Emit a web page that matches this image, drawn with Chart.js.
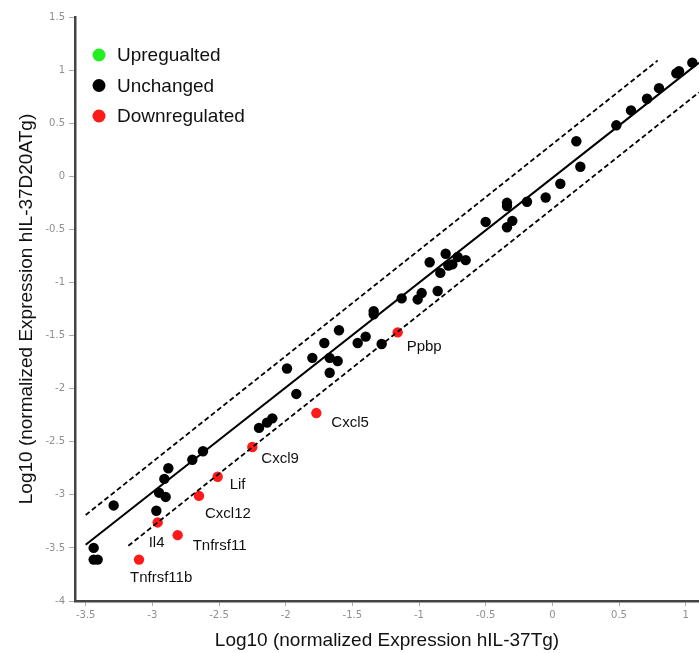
<!DOCTYPE html>
<html>
<head>
<meta charset="utf-8">
<script src="https://cdn.jsdelivr.net/npm/chart.js@4/dist/chart.umd.min.js"></script>
<style>
  html, body { margin: 0; padding: 0; background: #fff; }
  #wrap { width: 699px; height: 653px; }
</style>
</head>
<body>
<div id="wrap"><canvas id="scatterChart" width="699" height="653"></canvas></div>
<script>
// unchanged genes (black)
const unchangedX = [-3.44, -3.44, -3.41, -3.29, -2.97, -2.95, -2.90, -2.91, -2.88, -2.70,
  -2.62, -2.20, -2.14, -2.10, -1.92, -1.99, -1.80, -1.71, -1.67, -1.61,
  -1.67, -1.60, -1.46, -1.40, -1.34, -1.34, -1.28, -1.13, -1.01, -0.98,
  -0.86, -0.92, -0.84, -0.80, -0.78, -0.75, -0.71, -0.65, -0.50, -0.34,
  -0.34, -0.30, -0.34, -0.19, -0.05, 0.06, 0.21, 0.18, 0.48, 0.59,
  0.71, 0.80, 0.93, 0.95, 1.05];
const unchangedY = [-3.50, -3.61, -3.61, -3.10, -3.15, -2.98, -3.02, -2.85, -2.75, -2.67,
  -2.59, -2.37, -2.32, -2.28, -2.05, -1.81, -1.71, -1.57, -1.71, -1.74,
  -1.85, -1.45, -1.57, -1.51, -1.27, -1.30, -1.58, -1.15, -1.16, -1.10,
  -1.08, -0.81, -0.91, -0.73, -0.84, -0.83, -0.76, -0.79, -0.43, -0.25,
  -0.28, -0.42, -0.48, -0.24, -0.20, -0.07, 0.09, 0.33, 0.48, 0.62,
  0.73, 0.83, 0.97, 0.99, 1.07];

// downregulated genes (red)
const downGenes = ["Tnfrsf11b", "Il4", "Tnfrsf11", "Cxcl12", "Lif", "Cxcl9", "Cxcl5", "Ppbp"];
const downX = [-3.10, -2.96, -2.81, -2.65, -2.51, -2.25, -1.77, -1.16];
const downY = [-3.61, -3.26, -3.38, -3.01, -2.83, -2.55, -2.23, -1.47];

// upregulated genes (green) - none
const upX = [];
const upY = [];

// regression line and +/- boundaries
const fitX = [-3.50, 1.10];
const fitY = [-3.47, 1.07];
const upperX = [-3.50, 0.79];
const upperY = [-3.19, 1.09];
const lowerX = [-3.18, 1.10];
const lowerY = [-3.48, 0.79];

const xTicks = [-3.5, -3, -2.5, -2, -1.5, -1, -0.5, 0, 0.5, 1];
const yTicks = [-4, -3.5, -3, -2.5, -2, -1.5, -1, -0.5, 0, 0.5, 1, 1.5];

const legendItems = ["Upregualted", "Unchanged", "Downregulated"];
const legendColors = ["#22ee22", "#000000", "#ff1a1a"];

// label offsets (px) relative to each red point
const labelOffsets = [[-9, 18], [-9, 20], [15, 11], [6, 18], [12, 8], [9, 12], [15, 10], [9, 14]];

const pts = (xs, ys) => xs.map((x, i) => ({ x: x, y: ys[i] }));

const textFont = "'Liberation Sans', Arial, sans-serif";

const labelPlugin = {
  id: "geneLabels",
  afterDatasetsDraw(chart) {
    const ctx = chart.ctx;
    const xs = chart.scales.x, ys = chart.scales.y;
    ctx.save();
    ctx.fillStyle = "#111";
    ctx.font = "15px " + textFont;
    ctx.textAlign = "left";
    ctx.textBaseline = "middle";
    downGenes.forEach((g, i) => {
      const px = xs.getPixelForValue(downX[i]);
      const py = ys.getPixelForValue(downY[i]);
      ctx.fillText(g, px + labelOffsets[i][0], py + labelOffsets[i][1]);
    });
    // legend
    ctx.font = "19px " + textFont;
    legendItems.forEach((t, i) => {
      const y = 55 + i * 30.5;
      ctx.beginPath();
      ctx.fillStyle = legendColors[i];
      ctx.arc(99, y, 6.5, 0, Math.PI * 2);
      ctx.fill();
      ctx.fillStyle = "#111";
      ctx.fillText(t, 117, y + 1);
    });
    ctx.restore();
  }
};

const ctx = document.getElementById("scatterChart").getContext("2d");
new Chart(ctx, {
  type: "scatter",
  data: {
    datasets: [
      {
        label: "Fit",
        type: "line",
        data: pts(fitX, fitY),
        borderColor: "#000",
        borderWidth: 2,
        pointRadius: 0,
        showLine: true,
        fill: false,
      },
      {
        label: "Upper",
        type: "line",
        data: pts(upperX, upperY),
        borderColor: "#000",
        borderWidth: 1.8,
        borderDash: [5, 3],
        pointRadius: 0,
        showLine: true,
        fill: false,
      },
      {
        label: "Lower",
        type: "line",
        data: pts(lowerX, lowerY),
        borderColor: "#000",
        borderWidth: 1.8,
        borderDash: [5, 3],
        pointRadius: 0,
        showLine: true,
        fill: false,
      },
      {
        label: "Upregualted",
        data: pts(upX, upY),
        backgroundColor: "#22ee22",
        pointRadius: 5,
      },
      {
        label: "Unchanged",
        data: pts(unchangedX, unchangedY),
        backgroundColor: "#000",
        borderWidth: 0,
        pointRadius: 5.2,
        clip: false,
      },
      {
        label: "Downregulated",
        data: pts(downX, downY),
        backgroundColor: "#ff1a1a",
        borderWidth: 0,
        pointRadius: 5.2,
      },
    ],
  },
  options: {
    responsive: false,
    animation: false,
    layout: { autoPadding: false, padding: { top: 17, right: 0, left: 0, bottom: 0 } },
    plugins: {
      legend: { display: false },
      tooltip: { enabled: false },
    },
    scales: {
      x: {
        type: "linear",
        min: -3.58,
        max: 1.1,
        afterBuildTicks: (s) => { s.ticks = xTicks.map(v => ({ value: v })); },
        afterFit: (s) => { s.height = 52; },
        border: { color: "#444", width: 2.5 },
        grid: { drawOnChartArea: false, drawTicks: true, tickLength: 5, color: "#aaa" },
        ticks: {
          color: "#8f8f8f",
          font: { family: "'DejaVu Sans'", size: 10 },
          padding: 3,
          maxRotation: 0,
          callback: (v) => String(v),
        },
        title: {
          display: true,
          text: "Log10 (normalized Expression hIL-37Tg)",
          color: "#111",
          font: { family: textFont, size: 19 },
          padding: { top: 0, bottom: 1 },
        },
      },
      y: {
        type: "linear",
        min: -4,
        max: 1.5,
        afterBuildTicks: (s) => { s.ticks = yTicks.map(v => ({ value: v })); },
        afterFit: (s) => { s.width = 75; },
        border: { color: "#444", width: 2.5 },
        grid: { drawOnChartArea: false, drawTicks: true, tickLength: 6, color: "#aaa" },
        ticks: {
          color: "#8f8f8f",
          font: { family: "'DejaVu Sans'", size: 10 },
          padding: 4,
          callback: (v) => String(v),
        },
        title: {
          display: true,
          text: "Log10 (normalized Expression hIL-37D20ATg)",
          color: "#111",
          font: { family: textFont, size: 19 },
          padding: { top: 15, bottom: 0 },
        },
      },
    },
  },
  plugins: [labelPlugin],
});
</script>
</body>
</html>
